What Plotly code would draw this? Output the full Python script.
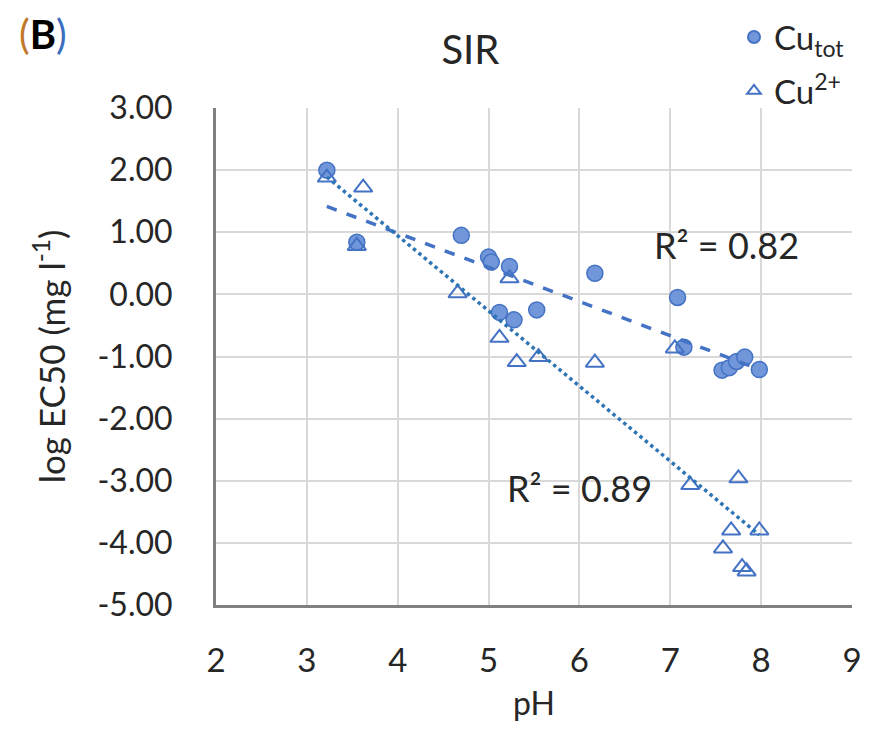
import numpy as np
import plotly.graph_objects as go

# Cu_tot: pH vs log EC50
ph_tot = [3.22, 3.55, 4.70, 5.00, 5.03, 5.23, 5.12, 5.28, 5.53, 6.17, 7.08, 7.15,
          7.57, 7.65, 7.73, 7.82, 7.98]
ec_tot = [2.00, 0.84, 0.95, 0.60, 0.52, 0.45, -0.29, -0.41, -0.25, 0.34, -0.05, -0.85,
          -1.22, -1.18, -1.08, -1.01, -1.21]

# Cu2+: pH vs log EC50
ph_ion = [3.22, 3.62, 3.55, 4.66, 5.23, 5.12, 5.31, 5.55, 6.17, 7.05, 7.22, 7.75,
          7.67, 7.98, 7.58, 7.79, 7.84]
ec_ion = [1.88, 1.72, 0.78, 0.02, 0.26, -0.70, -1.09, -1.01, -1.10, -0.87, -3.07, -2.96,
          -3.80, -3.80, -4.09, -4.39, -4.46]

y_ticks = [3, 2, 1, 0, -1, -2, -3, -4, -5]
y_labels = ["3.00", "2.00", "1.00", "0.00", "-1.00", "-2.00", "-3.00", "-4.00", "-5.00"]

r2_tot = "0.82"
r2_ion = "0.89"

blue = "#4472C4"
fill = "#7197DA"
dot_blue = "#2E75B6"
txt = "#262626"
font = "Lato, Open Sans, sans-serif"

# page has an 8px body margin, so the figure is a bit smaller than the window
W, H = 866, 723


def trend(x, y):
    # linear trendline over the data range, like Excel
    k, b = np.polyfit(x, y, 1)
    xs = np.array([min(x), max(x)])
    return xs, k * xs + b


fig = go.Figure()

fig.add_trace(go.Scatter(
    x=ph_tot, y=ec_tot, mode="markers", name="Cu<sub>tot</sub>", legendgroup="a",
    marker=dict(symbol="circle", size=16, color=fill, line=dict(color=blue, width=1.5))
))
fig.add_trace(go.Scatter(
    x=ph_ion, y=ec_ion, mode="markers", name="Cu<sup>2+</sup>", legendgroup="b",
    marker=dict(symbol="triangle-up-open", size=16, color=blue, line=dict(color=blue, width=2))
))

tx, ty = trend(ph_tot, ec_tot)
fig.add_trace(go.Scatter(x=tx, y=ty, mode="lines", showlegend=False,
                         line=dict(color=blue, width=3.5, dash="dash")))
tx, ty = trend(ph_ion, ec_ion)
fig.add_trace(go.Scatter(x=tx, y=ty, mode="lines", showlegend=False,
                         line=dict(color=dot_blue, width=3.5, dash="dot")))

fig.add_annotation(x=7.62, y=0.80, xref="x", yref="y", text="R² = " + r2_tot,
                   showarrow=False, font=dict(size=36, color=txt, family=font))
fig.add_annotation(x=6.0, y=-3.12, xref="x", yref="y", text="R² = " + r2_ion,
                   showarrow=False, font=dict(size=36, color=txt, family=font))

# panel label
fig.add_annotation(
    x=-0.313, y=1.148, xref="paper", yref="paper", xanchor="left", yanchor="middle",
    text='<span style="color:#C0782A">(</span><b>B</b><span style="color:#3A6FC0">)</span>',
    showarrow=False, font=dict(size=40, color="black", family=font)
)

fig.update_layout(
    width=W, height=H,
    margin=dict(l=208, r=22, t=100, b=126, autoexpand=False),
    paper_bgcolor="white", plot_bgcolor="white",
    font=dict(family=font, size=32, color=txt),
    title=dict(text="SIR", x=0.4, xref="paper", y=1 - 42 / H, yanchor="middle",
               xanchor="center", font=dict(size=40, color=txt, family=font)),
    legend=dict(x=726 / W, y=1 - 1 / H, xref="container", yref="container",
                xanchor="left", yanchor="top", tracegroupgap=8,
                font=dict(size=33, color=txt, family=font),
                bgcolor="rgba(0,0,0,0)", itemsizing="constant"),
)

fig.update_xaxes(range=[2, 9], dtick=1, tick0=2, showgrid=True, gridcolor="#D9D9D9",
                 gridwidth=1.5, showline=True, linecolor="#808080", linewidth=3,
                 zeroline=False, ticks="", ticklabelstandoff=24,
                 title=dict(text="pH", standoff=16, font=dict(size=32)),
                 tickfont=dict(size=33), automargin=False)
fig.update_yaxes(range=[-5, 3], tickvals=y_ticks, ticktext=y_labels, showgrid=True,
                 gridcolor="#D9D9D9", gridwidth=1.5, showline=True, linecolor="#808080",
                 linewidth=3, zeroline=False, ticks="", ticklabelstandoff=34,
                 title=dict(text="log EC50 (mg l<sup>-1</sup>)", standoff=22,
                            font=dict(size=35)),
                 tickfont=dict(size=32), automargin=False)

fig.write_html("out.html")
